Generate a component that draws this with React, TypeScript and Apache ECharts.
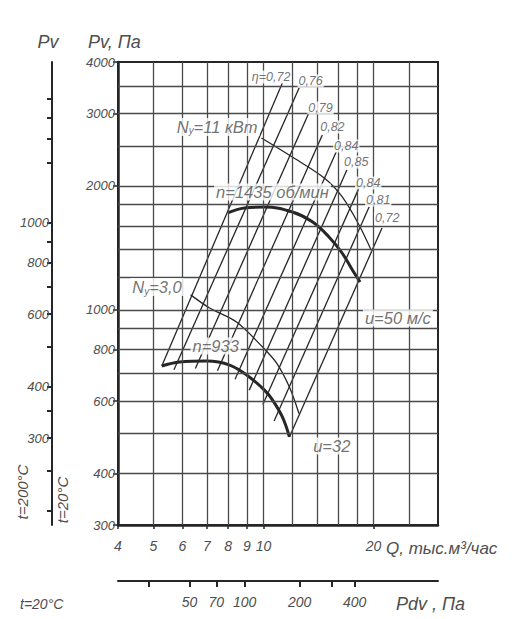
import React, { useEffect, useRef } from "react";
import * as echarts from "echarts";

// ---------- axes ----------
const qTickValues = [4, 5, 6, 7, 8, 9, 10, 20];
const qGridValues = [5, 6, 7, 8, 9, 10, 12, 14, 16, 18, 20, 25];
const pTickValues = [300, 400, 600, 800, 1000, 2000, 3000, 4000];
const pGridValues = [400, 500, 600, 700, 800, 900, 1000, 1200, 1400, 1600, 1800, 2000, 2500, 3000, 3500];
const p200TickValues = [200, 250, 300, 350, 400, 500, 600, 700, 800, 900, 1000, 1400, 1600, 1800, 2000];
const p200LabelValues = [300, 400, 600, 800, 1000];
const pdvTickValues = [30, 50, 70, 100, 200, 300, 400];
const pdvLabelValues = [50, 70, 100, 200, 400];

// ---------- curves (Q, тыс.м3/час ; Pv, Па) ----------
const curve1435 = [[7.98, 1719], [8.87, 1768], [10.06, 1777], [11.99, 1728], [13.6, 1636], [15.1, 1503], [16.4, 1374], [17.5, 1249], [18.37, 1168]];
const curve933 = [[5.27, 730], [5.9, 747], [6.99, 751], [8.08, 734], [9.16, 686], [10.06, 638], [10.58, 604], [11.26, 549], [11.77, 491]];
const power11 = [[9.87, 2614], [11.99, 2350], [14.66, 2090], [16.42, 1880], [18.25, 1607], [19.69, 1397]];
const power3 = [[6.32, 1087], [7.12, 1010], [8.44, 934], [9.94, 812], [10.85, 743], [11.77, 649], [12.5, 560]];
const effNames = ["η=0,72", "0,76", "0,79", "0,82", "0,84", "0,85", "0,84", "0,81", "0,72"];
const effLower = [[5.27, 730], [5.69, 715], [6.51, 720], [7.48, 711], [8.36, 678], [9.14, 638], [9.96, 589], [10.69, 537], [11.77, 491]];
const effUpper = [[11.26, 3556], [12.52, 3462], [13.34, 3024], [14.48, 2659], [15.8, 2419], [16.9, 2187], [18.25, 1978], [19.44, 1777], [21.09, 1581]];
const effLabelAnchors = [[11.92, 3677], [12.38, 3597], [13.18, 3093], [14.2, 2781], [15.5, 2500], [16.5, 2286], [17.8, 2032], [18.96, 1848], [20.06, 1671]];

const curveTexts = ["{a|N}{s|у}{a|=11 кВт}", "n=1435 об/мин", "{a|N}{s|у}{a|=3,0}", "n=933", "u=50 м/с", "u=32"];
const curveTextAnchors = [[9.75, 2781], [10.58, 1933], [6.05, 1136], [7.4, 817], [18.7, 955], [13.5, 467]];
const curveTextAligns = ["right", "center", "right", "center", "left", "left"];

const FONT = "'Liberation Sans Narrow', 'Arial Narrow', 'Liberation Sans', Arial, sans-serif";
const TXT = "#4e4e4e";
const INK = "#262626";
const GRID = "#4a4a4a";

const txt = (size: number) => ({ fontFamily: FONT, fontStyle: "italic" as const, fontSize: size, color: TXT });
const plain = (v: number) => String(v);

export default function App() {
  const ref = useRef<HTMLDivElement>(null);
  useEffect(() => {
    if (!ref.current) return;
    const chart = echarts.init(ref.current, null, { renderer: "svg" });

    const effSeries = effLower.map((lo, i) => ({
      type: "line",
      data: [lo, effUpper[i]],
      symbol: "none",
      silent: true,
      z: 3,
      lineStyle: { color: INK, width: 1.3 },
    }));

    const option: any = {
      animation: false,
      grid: { left: 118, top: 62, width: 320, height: 463, show: true, borderColor: INK, borderWidth: 2, backgroundColor: "transparent" },
      xAxis: [
        {
          type: "log", logBase: 10, min: 4, max: 30, position: "bottom",
          axisLine: { show: true, lineStyle: { color: INK, width: 2.5 } },
          axisTick: { show: true, customValues: qTickValues, length: 4, lineStyle: { color: INK, width: 1.5 } },
          axisLabel: { customValues: qTickValues, margin: 14, formatter: plain, ...txt(14) },
          splitLine: { show: false }, minorTick: { show: false },
        },
        {
          type: "log", logBase: 10, min: 20.3, max: 1143, position: "bottom", offset: 56,
          axisLine: { show: true, lineStyle: { color: INK, width: 2 } },
          axisTick: { show: true, customValues: pdvTickValues, length: 6, lineStyle: { color: INK, width: 2 } },
          axisLabel: { customValues: pdvLabelValues, margin: 14, formatter: plain, ...txt(14) },
          splitLine: { show: false },
        },
      ],
      yAxis: [
        {
          type: "log", logBase: 10, min: 300, max: 4000, position: "left",
          axisLine: { show: true, lineStyle: { color: INK, width: 2.5 } },
          axisTick: { show: true, customValues: pTickValues, length: 5, lineStyle: { color: INK, width: 1.5 } },
          axisLabel: { customValues: pTickValues, margin: 3, formatter: plain, ...txt(13) },
          splitLine: { show: false },
        },
        {
          type: "log", logBase: 10, min: 184.5, max: 2460, position: "left", offset: 66,
          axisLine: { show: true, lineStyle: { color: INK, width: 2 } },
          axisTick: { show: true, customValues: p200TickValues, length: 5, lineStyle: { color: INK, width: 2 } },
          axisLabel: { customValues: p200LabelValues, margin: 3, formatter: plain, ...txt(13) },
          splitLine: { show: false },
        },
      ],
      series: [
        {
          type: "line",
          data: [[4, 300]],
          symbol: "none",
          silent: true,
          z: 1,
          lineStyle: { opacity: 0 },
          markLine: {
            silent: true,
            symbol: ["none", "none"],
            label: { show: false },
            lineStyle: { color: GRID, width: 1.3, type: "solid" },
            data: [...qGridValues.map((v) => ({ xAxis: v })), ...pGridValues.map((v) => ({ yAxis: v }))],
          },
        },
        ...effSeries,
        { type: "line", data: power11, smooth: 0.3, symbol: "none", silent: true, z: 3, lineStyle: { color: INK, width: 1.3 } },
        { type: "line", data: power3, smooth: 0.3, symbol: "none", silent: true, z: 3, lineStyle: { color: INK, width: 1.3 } },
        { type: "line", data: curve1435, smooth: 0.4, symbol: "none", silent: true, z: 4, lineStyle: { color: INK, width: 3 } },
        { type: "line", data: curve933, smooth: 0.4, symbol: "none", silent: true, z: 4, lineStyle: { color: INK, width: 3 } },
        {
          type: "scatter",
          clip: false,
          silent: true,
          z: 6,
          symbolSize: 0.1,
          itemStyle: { color: "rgba(0,0,0,0)" },
          data: effNames.map((t, i) => ({
            value: effLabelAnchors[i],
            label: {
              show: true, position: "inside", formatter: t,
              align: i === 0 ? "right" : "left", verticalAlign: "middle",
              ...txt(12.5), backgroundColor: "#fff", padding: [0, 1],
            },
          })),
        },
        {
          type: "scatter",
          clip: false,
          silent: true,
          z: 6,
          symbolSize: 0.1,
          itemStyle: { color: "rgba(0,0,0,0)" },
          data: curveTexts.map((t, i) => ({
            value: curveTextAnchors[i],
            label: {
              show: true, position: "inside", formatter: t,
              align: curveTextAligns[i], verticalAlign: "middle",
              ...txt(16.5), backgroundColor: "#fff", padding: [0, 2],
              rich: {
                a: { ...txt(16.5) },
                s: { ...txt(10), padding: [8, 0, 0, 0] },
              },
            },
          })),
        },
      ],
      graphic: [
        { type: "text", x: 48, y: 42, style: { text: "Pv", align: "center", verticalAlign: "middle", fill: TXT, fontFamily: FONT, fontStyle: "italic", fontSize: 18 } },
        { type: "text", x: 88, y: 42, style: { text: "Pv, Па", align: "left", verticalAlign: "middle", fill: TXT, fontFamily: FONT, fontStyle: "italic", fontSize: 18 } },
        { type: "text", x: 386, y: 548, style: { text: "Q, тыс.м³/час", align: "left", verticalAlign: "middle", fill: TXT, fontFamily: FONT, fontStyle: "italic", fontSize: 17 } },
        { type: "text", x: 396, y: 604, style: { text: "Pdv , Па", align: "left", verticalAlign: "middle", fill: TXT, fontFamily: FONT, fontStyle: "italic", fontSize: 18 } },
        { type: "text", x: 20, y: 604, style: { text: "t=20°C", align: "left", verticalAlign: "middle", fill: TXT, fontFamily: FONT, fontStyle: "italic", fontSize: 14 } },
        { type: "text", x: 22, y: 492, rotation: Math.PI / 2, style: { text: "t=200°C", align: "center", verticalAlign: "middle", fill: TXT, fontFamily: FONT, fontStyle: "italic", fontSize: 15 } },
        { type: "text", x: 62, y: 500, rotation: Math.PI / 2, style: { text: "t=20°C", align: "center", verticalAlign: "middle", fill: TXT, fontFamily: FONT, fontStyle: "italic", fontSize: 15 } },
      ],
    };
    chart.setOption(option);
    return () => chart.dispose();
  }, []);
  return <div ref={ref} style={{ position: "fixed", left: 0, top: 0, width: 514, height: 619, background: "#fff" }} />;
}
